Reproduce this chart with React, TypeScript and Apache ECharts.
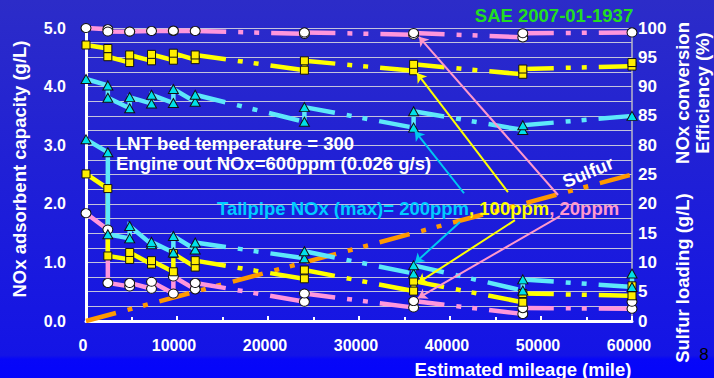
import React, { useEffect, useRef } from 'react';
import * as echarts from 'echarts';

// ---------- data ----------
const mileage = [0, 2400, 4800, 7200, 9600, 12000, 24000, 36000, 48000, 60000];
const measuredUntil = 12000; // solid up to here, dash-dot-dot afterwards

// NOx conversion efficiency (%): value on arrival at each test mileage / value after it
const eff200Arrive = [91.3, 90.2, 86.3, 87.1, 87.2, 87.4, 84.0, 83.0, 82.6, 85.0];
const eff200Leave = [91.3, 88.1, 88.2, 88.6, 89.6, 88.6, 86.5, 85.8, 83.4, 85.0];
const eff100Arrive = [97.1, 96.5, 94.1, 94.4, 94.5, 94.6, 92.8, 92.7, 92.1, 93.5];
const eff100Leave = [97.1, 95.1, 95.4, 95.5, 95.7, 95.4, 94.4, 93.8, 93.0, 94.1];
const eff20Arrive = [100, 99.8, 99.35, 99.5, 99.5, 99.5, 99.0, 98.85, 98.4, 99.25];
const eff20Leave = [100, 99.4, 99.4, 99.5, 99.55, 99.5, 99.25, 99.15, 99.1, 99.25];

// NOx adsorbent capacity (g/L)
const cap200Arrive = [3.10, 2.88, 1.41, 1.31, 1.17, 1.22, 1.07, 0.81, 0.52, 0.58];
const cap200Leave = [3.10, 1.48, 1.62, 1.35, 1.45, 1.34, 1.19, 0.95, 0.71, 0.81];
const cap100Arrive = [2.51, 2.26, 1.05, 0.97, 0.84, 0.92, 0.72, 0.51, 0.32, 0.43];
const cap100Leave = [2.51, 1.11, 1.17, 1.03, 1.15, 1.03, 0.87, 0.68, 0.47, 0.60];
const cap20Arrive = [1.84, 1.56, 0.59, 0.55, 0.47, 0.54, 0.33, 0.23, 0.12, 0.21];
const cap20Leave = [1.84, 0.65, 0.65, 0.67, 0.76, 0.65, 0.47, 0.34, 0.22, 0.33];

// Sulfur loading (g/L)
const sulfurMileage = [0, 60000];
const sulfurLoading = [0, 25];

// Annotation arrows [fromMileage, fromCapacity, toMileage, toCapacity] on the left scale
const arrows200 = [[41540, 2.18, 36150, 3.24], [41100, 1.69, 36150, 0.99]];
const arrows100 = [[46370, 2.20, 36370, 4.23], [47140, 1.72, 36480, 0.65]];
const arrows20 = [[51870, 2.15, 36590, 4.85], [52090, 1.79, 36480, 0.39]];

const xTicks = { min: 0, max: 60000, interval: 10000 };
const capTicks = { min: 0, max: 5, interval: 0.25 };
const effTicks = { min: 50, max: 100, interval: 5, shownFrom: 80 };
const sulfurTicks = { min: 0, max: 50, interval: 5, shownTo: 25 };

// ---------- styles ----------
const FONT = '"Liberation Sans", Arial, Helvetica, sans-serif';
const DASH = [31, 12, 5, 11, 5, 12];
const C_CYAN = '#5ee8fa';
const C_YEL = '#ffff00';
const C_PINK = '#ff96dc';
const C_ORANGE = '#ff9900';

function curve(arrive: number[], leave: number[], yAxisIndex: number, color: string, marker: any) {
  const solidPath: number[][] = [];
  const solidItems: any[] = [];
  const dashedItems: any[] = [];
  const points: number[][] = [];
  for (let i = 0; i < mileage.length; i++) {
    const m = mileage[i];
    const diff = leave[i] !== arrive[i];
    if (m <= measuredUntil) {
      solidPath.push([m, arrive[i]]);
      if (diff) solidPath.push([m, leave[i]]);
    } else {
      dashedItems.push({ coords: [[mileage[i - 1], leave[i - 1]], [m, arrive[i]]] });
      if (diff) solidItems.push({ coords: [[m, arrive[i]], [m, leave[i]]] });
    }
    points.push([m, arrive[i]]);
    if (diff) points.push([m, leave[i]]);
  }
  solidItems.unshift({ coords: solidPath });
  const base = { type: 'lines', coordinateSystem: 'cartesian2d', xAxisIndex: 0, yAxisIndex, silent: true, z: 2 };
  return [
    { ...base, polyline: true, data: solidItems, lineStyle: { color, width: 4.5, opacity: 1, type: 'solid', cap: 'butt' } },
    { ...base, polyline: false, data: dashedItems, lineStyle: { color, width: 4.5, opacity: 1, type: DASH, cap: 'butt' } },
    {
      type: 'scatter', xAxisIndex: 0, yAxisIndex, silent: true, z: 5, data: points,
      symbol: marker.symbol, symbolSize: marker.size,
      itemStyle: { color: marker.fill, borderColor: '#111', borderWidth: 1, opacity: 1 },
    },
  ];
}

function arrowSeries(list: number[][], color: string) {
  return {
    type: 'lines', coordinateSystem: 'cartesian2d', xAxisIndex: 0, yAxisIndex: 0, silent: true, z: 8,
    polyline: false, symbol: ['none', 'arrow'], symbolSize: 9,
    data: list.map((a) => ({ coords: [[a[0], a[1]], [a[2], a[3]]] })),
    lineStyle: { color, width: 2, opacity: 1, type: 'solid' },
  };
}

const TRI = { symbol: 'triangle', size: [10, 9], fill: '#00e0e8' };
const SQ = { symbol: 'rect', size: [8, 8], fill: '#ffee00' };
const CIR = { symbol: 'circle', size: [10, 9], fill: '#ffffff' };

const textStyle = (text: string, fill: string, size: number, align = 'center', weight = 'bold') => ({
  text, fill, fontSize: size, fontWeight: weight, fontFamily: FONT, align, verticalAlign: 'middle',
});

function buildOption() {
  const series: any[] = [
    {
      type: 'lines', coordinateSystem: 'cartesian2d', xAxisIndex: 0, yAxisIndex: 2, silent: true, z: 1,
      polyline: true,
      data: [{ coords: sulfurMileage.map((m, i) => [m, sulfurLoading[i]]) }],
      lineStyle: { color: C_ORANGE, width: 4.5, opacity: 1, type: DASH, cap: 'butt' },
    },
    ...curve(eff20Arrive, eff20Leave, 1, C_PINK, CIR),
    ...curve(eff100Arrive, eff100Leave, 1, C_YEL, SQ),
    ...curve(eff200Arrive, eff200Leave, 1, C_CYAN, TRI),
    ...curve(cap20Arrive, cap20Leave, 0, C_PINK, CIR),
    ...curve(cap100Arrive, cap100Leave, 0, C_YEL, SQ),
    ...curve(cap200Arrive, cap200Leave, 0, C_CYAN, TRI),
    arrowSeries(arrows200, '#00c8f0'),
    arrowSeries(arrows100, '#ffff00'),
    arrowSeries(arrows20, '#ff99cc'),
  ];
  const labelBase = { color: '#ffffff', fontWeight: 'bold', fontFamily: FONT };
  return {
    animation: false,
    grid: { left: 86, right: 82, top: 28, bottom: 57 },
    xAxis: {
      type: 'value', min: xTicks.min, max: xTicks.max, interval: xTicks.interval,
      axisLine: { show: true, onZero: false, lineStyle: { color: '#ffffff', width: 3 } },
      axisTick: { show: true, inside: true, length: 5, lineStyle: { color: '#ffffff', width: 2 } },
      minorTick: { show: true, splitNumber: 2, length: 4, lineStyle: { color: '#ffffff', width: 2 } },
      splitLine: { show: false },
      axisLabel: { ...labelBase, fontSize: 16, margin: 16, padding: [0, 6, 0, 0], formatter: (v: number) => String(v) },
    },
    yAxis: [
      {
        type: 'value', min: capTicks.min, max: capTicks.max, interval: capTicks.interval, position: 'left',
        axisLine: { show: true, lineStyle: { color: '#ffffff', width: 3 } },
        axisTick: { show: false },
        splitLine: { show: true, lineStyle: { color: '#c4c4dc', width: 1 } },
        axisLabel: { ...labelBase, fontSize: 16, margin: 20, formatter: (v: number) => (Math.abs(v - Math.round(v)) < 1e-6 ? v.toFixed(1) : '') },
      },
      {
        type: 'value', min: effTicks.min, max: effTicks.max, interval: effTicks.interval, position: 'right', offset: 0,
        axisLine: { show: true, lineStyle: { color: '#b8b8c8', width: 1.5 } },
        axisTick: { show: false }, splitLine: { show: false },
        axisLabel: { ...labelBase, fontSize: 17, margin: 6, formatter: (v: number) => (v >= effTicks.shownFrom ? String(v) : '') },
      },
      {
        type: 'value', min: sulfurTicks.min, max: sulfurTicks.max, interval: sulfurTicks.interval, position: 'right', offset: 0,
        axisLine: { show: false }, axisTick: { show: false }, splitLine: { show: false },
        axisLabel: { ...labelBase, fontSize: 17, margin: 6, formatter: (v: number) => (v <= sulfurTicks.shownTo ? String(v) : '') },
      },
    ],
    series,
    graphic: [
      { type: 'text', x: 554, y: 15, z: 100, style: textStyle('SAE 2007-01-1937', '#22dd22', 18.5) },
      { type: 'text', x: 19, y: 169, rotation: Math.PI / 2, z: 100, style: textStyle('NOx adsorbent capacity (g/L)', '#ffffff', 18.5) },
      { type: 'text', x: 682, y: 93, rotation: Math.PI / 2, z: 100, style: textStyle('NOx conversion', '#ffffff', 18.5) },
      { type: 'text', x: 702, y: 93, rotation: Math.PI / 2, z: 100, style: textStyle('Efficiency (%)', '#ffffff', 18.5) },
      { type: 'text', x: 682, y: 278, rotation: Math.PI / 2, z: 100, style: textStyle('Sulfur loading (g/L)', '#ffffff', 18.5) },
      { type: 'text', x: 523, y: 369, z: 100, style: textStyle('Estimated mileage (mile)', '#ffffff', 18.5) },
      { type: 'text', x: 704, y: 354, z: 100, style: textStyle('8', '#000000', 17, 'center', 'normal') },
      { type: 'text', x: 116, y: 143, z: 100, style: textStyle('LNT bed temperature = 300', '#ffffff', 18.5, 'left') },
      { type: 'text', x: 116, y: 163, z: 100, style: textStyle('Engine out NOx=600ppm (0.026 g/s)', '#ffffff', 18.5, 'left') },
      {
        type: 'text', x: 217, y: 208, z: 100,
        style: {
          text: '{c|Tailpipe NOx (max)= 200ppm}{y|, 100ppm}{p|, 20ppm}',
          align: 'left', verticalAlign: 'middle', fontSize: 18.5, fontWeight: 'bold', fontFamily: FONT,
          rich: {
            c: { fill: '#00ccff', fontSize: 18.5, fontWeight: 'bold', fontFamily: FONT },
            y: { fill: '#ffff00', fontSize: 18.5, fontWeight: 'bold', fontFamily: FONT },
            p: { fill: '#ff99cc', fontSize: 18.5, fontWeight: 'bold', fontFamily: FONT },
          },
        },
      },
      { type: 'text', x: 588, y: 172, rotation: 0.39, z: 100, style: textStyle('Sulfur', '#ffffff', 18.5) },
    ],
  };
}

export default function App() {
  const ref = useRef<HTMLDivElement>(null);
  useEffect(() => {
    if (!ref.current) return;
    document.body.style.margin = '0';
    const chart = echarts.init(ref.current, undefined, { renderer: 'svg' });
    chart.setOption(buildOption() as any);
    return () => chart.dispose();
  }, []);
  return (
    <div
      ref={ref}
      style={{
        width: 714, height: 378,
        background: 'linear-gradient(to bottom, #2c2cc8 0%, #2020d6 45%, #1414e6 94%, #0707f8 95%, #0505fb 100%)',
      }}
    />
  );
}
